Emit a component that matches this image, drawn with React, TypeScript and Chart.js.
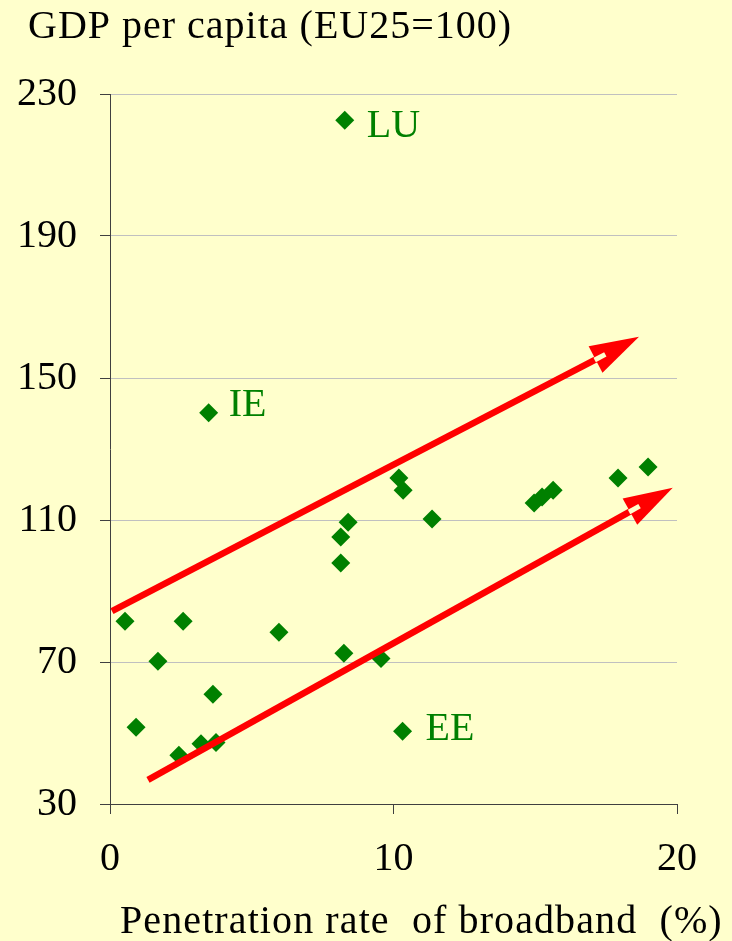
import React, { useEffect, useRef } from 'react';
import { Chart, registerables } from 'chart.js';

Chart.register(...registerables);

// ---- Data ----
const broadbandRate = [8.28, 3.48, 10.32, 0.53, 2.58, 1.69, 5.96, 8.25, 9.56, 3.63, 0.92, 2.43, 3.21, 3.74, 10.19, 10.34, 8.4, 8.14, 8.14, 11.36, 14.96, 15.24, 15.63, 17.92, 18.98];
const gdpPerCapita = [222.6, 140.2, 50.5, 81.5, 81.5, 70.2, 78.4, 72.5, 71.0, 60.9, 51.6, 43.7, 47.0, 47.3, 121.8, 118.4, 109.4, 105.2, 97.9, 110.3, 114.8, 116.5, 118.4, 121.8, 124.9];
const countryLabels = ['LU', 'IE', 'EE', '', '', '', '', '', '', '', '', '', '', '', '', '', '', '', '', '', '', '', '', '', ''];

const arrowStartX = [0.07, 1.34];
const arrowStartY = [84.3, 36.8];
const arrowEndX = [18.66, 19.85];
const arrowEndY = [161.6, 119.1];

const yMin = 30;
const yMax = 230;
const yStep = 40;
const xMin = 0;
const xMax = 20;
const xStep = 10;

const chartTitle = 'GDP per capita (EU25=100)';
const xAxisTitle = 'Penetration rate  of broadband  (%)';

// ---- Styles ----
const BG = '#FFFFCC';
const GREEN = '#008000';
const RED = '#FF0000';
const AXIS = '#404040';
const GRID = '#C0C0C0';
const FONT = "'Liberation Serif', 'Times New Roman', serif";
const labelOffsets: Record<string, [number, number]> = { LU: [22, 17], IE: [20, 3], EE: [23, 9] };

const decorPlugin = {
  id: 'decor',
  beforeDraw(chart: any) {
    const ctx = chart.ctx;
    ctx.save();
    ctx.fillStyle = BG;
    ctx.fillRect(0, 0, chart.width, chart.height);
    ctx.restore();
  },
  afterDatasetsDraw(chart: any) {
    const ctx = chart.ctx;
    const xs = chart.scales.x;
    const ys = chart.scales.y;
    // point labels
    ctx.save();
    ctx.font = `40px ${FONT}`;
    ctx.fillStyle = GREEN;
    ctx.textAlign = 'left';
    ctx.textBaseline = 'alphabetic';
    countryLabels.forEach((lab, i) => {
      if (!lab) return;
      const off = labelOffsets[lab] || [20, 10];
      const px = xs.getPixelForValue(broadbandRate[i]);
      const py = ys.getPixelForValue(gdpPerCapita[i]);
      ctx.fillText(lab, px + off[0], py + off[1]);
    });
    ctx.restore();
    // arrows
    for (let i = 0; i < arrowStartX.length; i++) {
      const x0 = xs.getPixelForValue(arrowStartX[i]);
      const y0 = ys.getPixelForValue(arrowStartY[i]);
      const x1 = xs.getPixelForValue(arrowEndX[i]);
      const y1 = ys.getPixelForValue(arrowEndY[i]);
      const ang = Math.atan2(y1 - y0, x1 - x0);
      const ux = Math.cos(ang), uy = Math.sin(ang);
      const nx = -uy, ny = ux;
      const headLen = 49, headHalf = 15;
      const bx = x1 - ux * headLen, by = y1 - uy * headLen;
      ctx.save();
      ctx.strokeStyle = RED;
      ctx.lineWidth = 6.5;
      ctx.lineCap = 'butt';
      ctx.beginPath();
      ctx.moveTo(x0, y0);
      ctx.lineTo(bx + ux * 2, by + uy * 2);
      ctx.stroke();
      ctx.fillStyle = RED;
      ctx.beginPath();
      ctx.moveTo(x1, y1);
      ctx.lineTo(bx + nx * headHalf, by + ny * headHalf);
      ctx.lineTo(bx - nx * headHalf, by - ny * headHalf);
      ctx.closePath();
      ctx.fill();
      // small notch
      ctx.translate(bx + ux * 5, by + uy * 5);
      ctx.rotate(ang);
      ctx.fillStyle = BG;
      ctx.fillRect(-6, -2.5, 12, 5);
      ctx.restore();
    }
  },
  afterDraw(chart: any) {
    const ctx = chart.ctx;
    const area = chart.chartArea;
    ctx.save();
    ctx.fillStyle = '#000000';
    ctx.font = `40px ${FONT}`;
    ctx.textAlign = 'left';
    ctx.textBaseline = 'alphabetic';
    try { (ctx as any).letterSpacing = '1px'; } catch (e) {}
    ctx.fillText(chartTitle, 28, 38);
    try { (ctx as any).letterSpacing = '1.1px'; } catch (e) {}
    ctx.fillText(xAxisTitle, area.left + 10, chart.height - 8);
    try { (ctx as any).letterSpacing = '0px'; } catch (e) {}
    ctx.restore();
  },
};

export default function App() {
  const ref = useRef<HTMLCanvasElement | null>(null);
  useEffect(() => {
    document.body.style.margin = '0';
    document.body.style.background = BG;
    if (!ref.current) return;
    const chart = new Chart(ref.current, {
      type: 'scatter',
      data: {
        datasets: [
          {
            data: broadbandRate.map((x, i) => ({ x, y: gdpPerCapita[i] })),
            backgroundColor: GREEN,
            borderColor: GREEN,
            borderWidth: 0,
            pointStyle: 'rectRot',
            pointRadius: 9.5,
            pointHoverRadius: 9.5,
          },
        ],
      },
      options: {
        animation: false,
        responsive: false,
        events: [],
        layout: { padding: { top: 94, right: 55, left: 0, bottom: 0 } },
        plugins: { legend: { display: false }, tooltip: { enabled: false }, title: { display: false } },
        scales: {
          x: {
            type: 'linear',
            min: xMin,
            max: xMax,
            afterFit: (s: any) => { s.height = 137; },
            ticks: { stepSize: xStep, color: '#000', padding: 21, font: { family: FONT, size: 40 } },
            grid: { display: true, drawOnChartArea: false, drawTicks: true, tickLength: 10, tickColor: AXIS, color: AXIS },
            border: { display: true, color: AXIS, width: 1 },
          },
          y: {
            type: 'linear',
            min: yMin,
            max: yMax,
            afterFit: (s: any) => { s.width = 110; },
            ticks: { stepSize: yStep, color: '#000', padding: 23, font: { family: FONT, size: 40 } },
            grid: { display: true, color: GRID, lineWidth: 1, drawTicks: true, tickLength: 10, tickColor: AXIS },
            border: { display: true, color: AXIS, width: 1 },
          },
        },
      },
      plugins: [decorPlugin],
    });
    return () => chart.destroy();
  }, []);
  return (
    <div style={{ width: 732, height: 941, background: BG }}>
      <canvas ref={ref} width={732} height={941} style={{ display: 'block' }} />
    </div>
  );
}
